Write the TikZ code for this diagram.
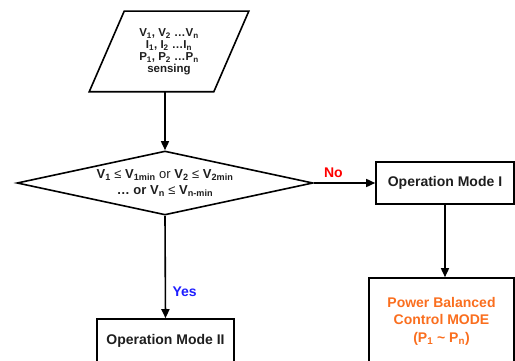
\documentclass[tikz,border=0pt]{standalone}
\usepackage{fontspec}
\setmainfont{Liberation Sans}
\usetikzlibrary{shapes.geometric,arrows.meta,calc}
\definecolor{nored}{RGB}{255,0,0}
\definecolor{yesblue}{RGB}{30,30,255}
\definecolor{modeorange}{RGB}{250,110,30}
\definecolor{ink}{RGB}{30,30,30}
\newcommand\subx[1]{\textsubscript{#1}}

\begin{document}
\begin{tikzpicture}[x=1pt,y=-1pt,
  line width=1.6pt,
  flow/.style={-{Triangle[length=9pt,width=8pt]}},
  modebox/.style={draw, rectangle, inner sep=0pt, text=ink, align=center,
    font=\fontsize{14}{17.5}\selectfont\bfseries},
  lbl/.style={font=\fontsize{14}{16}\selectfont\bfseries}
]
\useasboundingbox (0,0) rectangle (515,361);
\clip (0,0) rectangle (515,361);

% input: measured quantities
\node (sense) [minimum width=158pt, minimum height=79pt, inner sep=0pt, text=ink,
  align=center, font=\fontsize{11.5}{12}\selectfont\bfseries] at (169,51.5)
  {V\subx{1}, V\subx{2} …V\subx{n}\\I\subx{1}, I\subx{2} …I\subx{n}\\P\subx{1}, P\subx{2} …P\subx{n}\\sensing};
\draw[line join=miter] ($(sense.north west)+(35,0)$) -- (sense.north east)
  -- ($(sense.south east)+(-35,0)$) -- (sense.south west) -- cycle;

% decision on the minimum voltages
\node (test) [diamond, draw, line join=miter, minimum width=296pt, minimum height=64pt,
  inner sep=0pt, aspect=4.5, text=ink, align=center,
  font=\fontsize{13}{16}\selectfont\bfseries] at (165,183)
  {V\subx{1} {\mdseries ≤} V\subx{1min} {\mdseries or} V\subx{2} {\mdseries ≤} V\subx{2min}\\
   … or V\subx{n} {\mdseries ≤} V\subx{n-min}};

% operating modes
\node (modeI) [modebox, minimum width=138pt, minimum height=42pt] at (445,183) {Operation Mode I};
\node (power) [modebox, text=modeorange, minimum width=145pt, minimum height=86pt] at (441.5,321)
  {Power Balanced\\Control MODE\\(P\subx{1} \textasciitilde{} P\subx{n})};
\node (modeII) [modebox, minimum width=137pt, minimum height=44pt] at (165.5,341) {Operation Mode II};

% connectors
\draw[flow] (test.north |- sense.south) -- (test.north);
\draw[flow] (test.east) -- (modeI.west)
  node[lbl, pos=0.32, above=1pt, text=nored] {No};
\draw[flow] (test.south) -- (modeII.north)
  node[lbl, pos=0.74, right=3pt, text=yesblue] {Yes};
\draw[flow] (modeI.south) -- (modeI.south |- power.north);
\end{tikzpicture}
\end{document}
